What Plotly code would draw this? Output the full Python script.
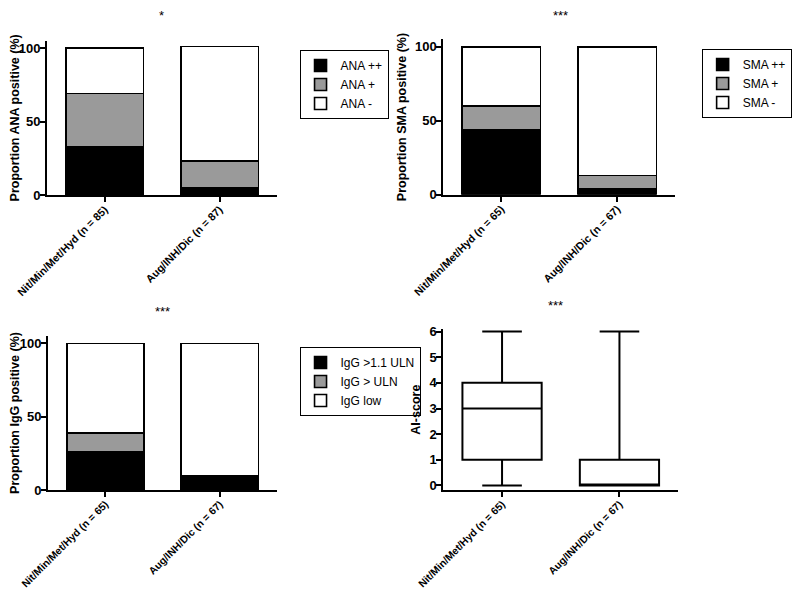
import plotly.graph_objects as go

# ---------------- data ----------------
cats_ana = ["Nit/Min/Met/Hyd (n = 85)", "Aug/INH/Dic (n = 87)"]
ana_pp = [33, 5]
ana_p = [36, 18]
ana_neg = [31, 78]

cats_sma = ["Nit/Min/Met/Hyd (n = 65)", "Aug/INH/Dic (n = 67)"]
sma_pp = [44, 4]
sma_p = [16, 9]
sma_neg = [40, 87]

cats_igg = ["Nit/Min/Met/Hyd (n = 65)", "Aug/INH/Dic (n = 67)"]
igg_hi = [26, 8]
igg_uln = [13, 1.5]
igg_low = [61, 90.5]

cats_ai = ["Nit/Min/Met/Hyd (n = 65)", "Aug/INH/Dic (n = 67)"]
ai_min = [0, 0]
ai_q1 = [1, 0]
ai_med = [3, 0]
ai_q3 = [4, 1]
ai_max = [6, 6]

stars = ["*", "***", "***", "***"]

# ---------------- style ----------------
OFF = 8  # page body margin
W, H = 800 - 2 * OFF, 602 - 2 * OFF
FONT = "Liberation Sans"
BLACK = "#000000"
GRAY = "#9a9a9a"
WHITE = "#ffffff"

def px(x):
    return (x - OFF) / W

def py(y):
    return 1 - (y - OFF) / H

fig = go.Figure()

def stacked(cats, vals, names, xa, ya, legend):
    for v, n, c in zip(vals, names, [BLACK, GRAY, WHITE]):
        fig.add_trace(go.Bar(
            x=cats, y=v, name=n, xaxis=xa, yaxis=ya, legend=legend,
            marker=dict(color=c, line=dict(color=BLACK, width=1.6)),
            width=0.675,
        ))

stacked(cats_ana, [ana_pp, ana_p, ana_neg], ["ANA ++", "ANA +", "ANA -"], "x", "y", "legend")
stacked(cats_sma, [sma_pp, sma_p, sma_neg], ["SMA ++", "SMA +", "SMA -"], "x2", "y2", "legend2")
stacked(cats_igg, [igg_hi, igg_uln, igg_low], ["IgG >1.1 ULN", "IgG > ULN", "IgG low"], "x3", "y3", "legend3")

fig.add_trace(go.Box(
    x=cats_ai, q1=ai_q1, median=ai_med, q3=ai_q3,
    lowerfence=ai_min, upperfence=ai_max,
    xaxis="x4", yaxis="y4", showlegend=False,
    fillcolor=WHITE, line=dict(color=BLACK, width=2),
    whiskerwidth=0.5, width=0.675,
))

tickfont = dict(family=FONT, size=13, color=BLACK, weight="bold")
titlefont = dict(family=FONT, size=12.5, color=BLACK, weight="bold")

def xax(dom, anchor, size=10.8):
    return dict(domain=dom, anchor=anchor, range=[-0.5, 1.5], showgrid=False,
                zeroline=False, showline=True, linecolor=BLACK, linewidth=2,
                ticks="outside", ticklen=5, tickwidth=2, tickcolor=BLACK,
                tickangle=-45, ticklabelstandoff=-3,
                tickfont=dict(family=FONT, size=size, color=BLACK, weight="bold"),
                automargin=False, fixedrange=True)

def yax(dom, anchor, rng, tickvals, title):
    return dict(domain=dom, anchor=anchor, range=rng, showgrid=False,
                zeroline=False, showline=True, linecolor=BLACK, linewidth=2,
                ticks="outside", ticklen=5, tickwidth=2, tickcolor=BLACK,
                tickvals=tickvals, tickfont=tickfont, ticklabelstandoff=-3,
                title=dict(text=title, font=titlefont, standoff=6),
                automargin=False, fixedrange=True)

def legend(x, y):
    return dict(x=px(x), y=py(y), xanchor="left", yanchor="top",
                bordercolor=BLACK, borderwidth=1, bgcolor=WHITE,
                traceorder="normal",
                font=dict(family=FONT, size=12, color=BLACK))

fig.update_layout(
    width=W, height=H,
    margin=dict(l=0, r=0, t=0, b=0),
    paper_bgcolor=WHITE, plot_bgcolor=WHITE,
    barmode="stack",
    font=dict(family=FONT, color=BLACK),
    xaxis=xax([px(48), px(283)], "y"),
    yaxis=yax([py(195), py(40.7)], "x", [0, 105], [0, 50, 100], "Proportion ANA positive (%)"),
    xaxis2=xax([px(453), px(690)], "y2"),
    yaxis2=yax([py(194.7), py(39.3)], "x2", [0, 105], [0, 50, 100], "Proportion SMA positive (%)"),
    xaxis3=xax([px(49), px(283)], "y3", 10.4),
    yaxis3=yax([py(490), py(336)], "x3", [0, 105], [0, 50, 100], "Proportion IgG positive (%)"),
    xaxis4=xax([px(453), px(693)], "y4", 10.4),
    yaxis4=yax([py(490), py(329.3)], "x4", [-0.18, 6.09], [0, 1, 2, 3, 4, 5, 6], "AI-score"),
    legend=legend(306, 50),
    legend2=legend(717, 49),
    legend3=legend(306, 347),
)

star_pos = [(165, 16), (573, 16), (166, 312), (568, 305)]
for s, (x, y) in zip(stars, star_pos):
    fig.add_annotation(text=s, x=px(x), y=py(y), xref="paper", yref="paper",
                       showarrow=False, font=dict(family=FONT, size=13, color=BLACK),
                       xanchor="center", yanchor="middle")

fig.write_html("out.html")
